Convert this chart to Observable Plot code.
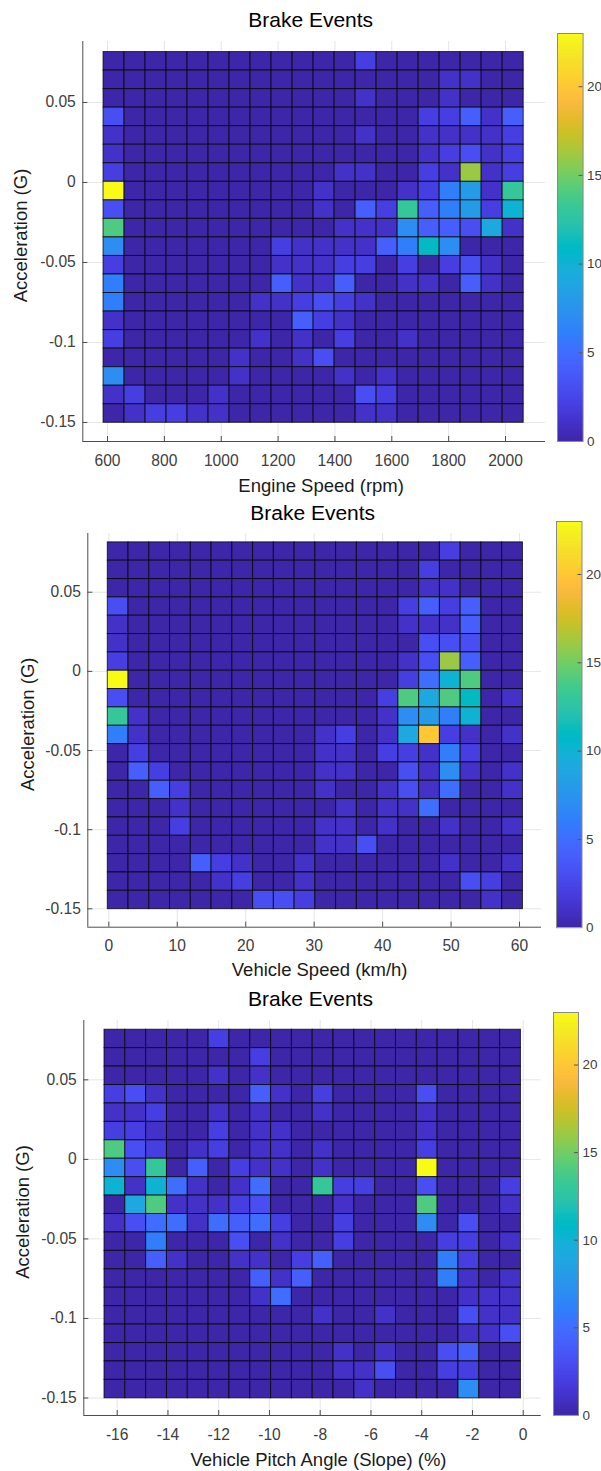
<!DOCTYPE html>
<html><head><meta charset="utf-8">
<script src="https://cdn.jsdelivr.net/npm/d3@7"></script>
<script src="https://cdn.jsdelivr.net/npm/@observablehq/plot@0.6"></script>
<style>
body{margin:0;background:#fff;}
#root{position:relative;width:601px;height:1471px;overflow:hidden;background:#fff;font-family:"Liberation Sans",Arial,sans-serif;}
#root svg{position:absolute;overflow:visible;}
</style></head><body><div id="root"></div>
<script>
// ---- data ----
const chartTitle = "Brake Events";
const yLabel = "Acceleration (G)";
const accelTicks = [-0.15, -0.1, -0.05, 0, 0.05];
const accelBinRange = [-0.1502, 0.0815];
const engineTicks = [600, 800, 1000, 1200, 1400, 1600, 1800, 2000];
const engineBinRange = [586, 2064];
const speedTicks = [0, 10, 20, 30, 40, 50, 60];
const speedBinRange = [-0.15, 60.5];
const pitchTicks = [-16, -14, -12, -10, -8, -6, -4, -2, 0];
const pitchBinRange = [-16.5, -0.09];
const colorTicks = [0, 5, 10, 15, 20];
const colorMax = 23;

// counts, rows from highest acceleration bin (top) to lowest (bottom)
const engineCounts = [
 [0,0,0,0,0,0,0,0,0,0,0,0,2,0,0,0,0,0,0,0],
 [0,0,0,0,0,0,0,0,0,0,0,0,0,0,0,0,1,1,0,0],
 [0,0,0,0,0,0,0,0,0,0,0,0,1,0,0,0,1,0,0,0],
 [3,0,0,0,0,0,0,0,0,0,0,0,0,0,0,2,2,4,1,4],
 [1,0,0,0,0,0,0,0,0,0,0,0,1,0,0,1,1,1,1,2],
 [1,0,0,0,0,0,0,0,0,0,0,0,0,0,0,1,2,3,1,2],
 [2,0,0,0,0,0,0,0,0,0,0,1,1,0,0,2,1,16,1,2],
 [23,0,0,0,0,0,0,0,0,0,1,0,0,0,1,2,6,8,1,13],
 [3,0,0,0,0,0,0,0,0,0,1,0,4,2,13,4,6,8,2,10],
 [14,0,0,0,0,0,0,0,0,0,0,1,1,1,7,4,4,3,9,1],
 [7,0,0,0,0,0,0,0,2,1,1,1,1,4,6,11,7,0,0,0],
 [2,0,0,0,0,0,0,0,1,1,1,2,2,0,2,0,2,3,1,0],
 [6,0,0,0,0,0,0,0,4,1,1,4,0,0,1,1,0,4,1,0],
 [6,0,0,0,0,0,0,1,1,2,3,2,1,0,0,0,0,0,0,0],
 [1,0,0,0,0,0,0,0,0,4,2,1,0,0,0,0,0,0,0,0],
 [2,0,0,0,0,0,0,1,0,1,0,2,0,0,1,0,0,0,0,0],
 [0,0,0,0,0,0,1,0,0,1,3,0,0,0,0,0,0,0,0,0],
 [7,0,0,0,0,0,1,0,0,0,0,1,0,1,0,0,0,0,0,0],
 [1,2,0,0,0,1,0,0,0,0,0,0,3,2,0,0,0,0,0,0],
 [0,1,2,2,1,1,0,0,0,0,0,0,1,1,0,0,0,0,0,0]
];
const speedCounts = [
 [0,0,0,0,0,0,0,0,0,0,0,0,0,0,0,0,2,0,0,0],
 [0,0,0,0,0,0,0,0,0,0,0,0,0,0,0,2,0,0,0,0],
 [0,0,0,0,0,0,0,0,0,0,0,0,0,0,0,1,1,0,0,0],
 [3,0,0,0,0,0,0,0,0,0,0,0,0,0,2,4,2,4,0,0],
 [1,0,0,0,0,0,0,0,0,0,0,0,0,0,1,1,1,4,0,0],
 [1,0,0,0,0,0,0,0,0,0,0,0,0,0,0,3,3,3,0,0],
 [2,0,0,0,0,0,0,0,0,0,0,0,0,0,1,3,16,4,0,0],
 [23,0,0,0,0,0,0,0,0,0,0,0,0,0,2,5,10,14,0,0],
 [3,0,0,0,0,0,0,0,0,0,0,0,0,2,14,9,14,11,0,1],
 [13,1,0,0,0,0,0,0,0,0,0,0,0,1,7,8,6,10,0,0],
 [6,1,0,0,0,0,0,0,0,0,1,2,0,1,9,20,2,1,0,1],
 [0,2,0,0,0,0,0,0,0,0,1,1,0,2,2,1,6,2,0,0],
 [0,4,2,0,0,0,0,0,0,0,1,1,0,0,3,1,7,1,0,1],
 [0,0,4,2,0,0,0,0,0,0,1,0,0,1,3,1,5,0,0,1],
 [0,0,0,1,0,0,0,0,0,0,0,1,0,1,1,5,0,0,0,0],
 [0,0,0,2,0,0,0,0,0,0,1,1,0,1,0,0,1,0,0,1],
 [0,0,0,0,0,0,0,0,0,0,1,1,3,0,0,0,0,0,0,0],
 [0,0,0,0,4,2,1,0,0,1,0,0,0,0,0,0,1,0,0,1],
 [0,0,0,0,0,1,2,0,0,1,0,0,0,0,0,0,0,3,2,0],
 [0,0,0,0,0,0,0,3,3,2,0,0,0,0,0,0,0,0,1,0]
];
const pitchCounts = [
 [0,0,0,0,0,2,0,0,0,0,0,0,0,0,0,0,0,0,0,0],
 [0,0,0,0,0,0,0,2,0,0,0,0,0,0,0,0,0,0,0,0],
 [0,0,0,0,0,1,0,1,0,0,0,0,0,0,0,0,0,0,0,0],
 [2,3,1,0,0,0,0,4,1,0,2,0,0,0,0,3,0,0,0,0],
 [1,1,2,0,0,1,0,1,0,0,1,0,0,0,0,1,0,0,0,0],
 [2,2,1,0,0,2,0,1,1,0,0,0,0,0,0,1,0,0,0,0],
 [14,3,2,0,1,2,0,1,1,0,1,0,0,0,0,2,0,0,0,0],
 [7,3,13,0,4,0,2,1,1,0,1,0,0,0,0,23,0,0,0,0],
 [10,1,10,5,1,0,1,5,0,0,13,2,2,0,0,3,0,0,0,2],
 [0,9,14,1,1,1,2,3,0,0,0,1,0,0,0,14,0,0,0,1],
 [1,3,5,5,1,5,4,5,2,0,0,2,0,0,0,7,0,3,0,0],
 [0,0,6,0,0,0,3,0,1,0,0,2,0,0,0,0,2,2,0,1],
 [0,0,4,1,0,0,1,1,0,2,4,0,0,0,0,0,6,2,0,0],
 [0,0,0,0,0,0,0,4,1,4,0,0,0,0,0,0,6,1,0,1],
 [0,0,0,0,0,0,0,1,5,0,0,0,0,0,0,0,0,1,1,1],
 [0,0,0,0,0,0,0,0,0,0,1,0,0,1,0,0,0,3,1,1],
 [0,0,0,0,0,0,0,0,0,0,0,0,0,0,0,0,0,1,1,3],
 [0,0,0,0,0,0,0,0,0,0,0,1,0,1,0,0,3,4,0,0],
 [0,0,0,0,0,0,0,0,0,0,0,1,1,3,0,0,2,2,0,0],
 [0,0,0,0,0,0,0,0,0,0,0,0,1,0,0,0,0,7,0,0]
];

// MATLAB parula (64)
const parulaColors = [
[0.2422,0.1504,0.6603],[0.2504,0.1650,0.7076],[0.2578,0.1818,0.7511],[0.2647,0.1978,0.7952],[0.2706,0.2147,0.8364],[0.2751,0.2342,0.8710],[0.2783,0.2559,0.8991],[0.2803,0.2782,0.9221],[0.2813,0.3006,0.9414],[0.2810,0.3228,0.9579],[0.2795,0.3447,0.9717],[0.2760,0.3667,0.9829],[0.2699,0.3892,0.9906],[0.2602,0.4123,0.9952],[0.2440,0.4358,0.9988],[0.2206,0.4603,0.9973],[0.1963,0.4847,0.9892],[0.1834,0.5074,0.9798],[0.1786,0.5289,0.9682],[0.1764,0.5499,0.9520],[0.1687,0.5703,0.9359],[0.1540,0.5902,0.9218],[0.1460,0.6091,0.9079],[0.1380,0.6276,0.8973],[0.1248,0.6459,0.8883],[0.1113,0.6635,0.8763],[0.0952,0.6798,0.8598],[0.0689,0.6948,0.8394],[0.0297,0.7082,0.8163],[0.0036,0.7203,0.7917],[0.0067,0.7312,0.7660],[0.0433,0.7411,0.7394],[0.0964,0.7500,0.7120],[0.1408,0.7584,0.6842],[0.1717,0.7670,0.6554],[0.1938,0.7758,0.6251],[0.2161,0.7843,0.5923],[0.2470,0.7918,0.5567],[0.2906,0.7973,0.5188],[0.3406,0.8008,0.4789],[0.3909,0.8029,0.4354],[0.4456,0.8024,0.3909],[0.5044,0.7993,0.3480],[0.5616,0.7942,0.3045],[0.6174,0.7876,0.2612],[0.6720,0.7793,0.2227],[0.7242,0.7698,0.1910],[0.7738,0.7598,0.1646],[0.8203,0.7498,0.1535],[0.8634,0.7406,0.1596],[0.9035,0.7330,0.1774],[0.9393,0.7288,0.2100],[0.9728,0.7298,0.2394],[0.9956,0.7434,0.2371],[0.9970,0.7659,0.2199],[0.9952,0.7893,0.2028],[0.9892,0.8136,0.1885],[0.9786,0.8386,0.1766],[0.9676,0.8639,0.1643],[0.9610,0.8890,0.1537],[0.9597,0.9135,0.1423],[0.9628,0.9373,0.1265],[0.9691,0.9606,0.1064],[0.9769,0.9839,0.0805]
].map(([r,g,b]) => d3.rgb(r*255, g*255, b*255).formatHex());

// ---- layout ----
const FONT = '"Liberation Sans", Arial, sans-serif';
const panels = [
  {counts: engineCounts, xBins: engineBinRange, xTicks: engineTicks, xLabel: "Engine Speed (rpm)",
   xDomain: [513, 2140.7], yDomain: [-0.1619, 0.0881],
   axes: {left: 82.3, right: 545, top: 40.7, bottom: 440.7},
   cb: {left: 556.7, right: 582.3, top: 32.7, bottom: 440.7},
   titleDy: -21.5, titleDx: -3.5, xLabDy: 44.3, xLabDx: 7, yLabDx: -62, yLabDy: -6},
  {counts: speedCounts, xBins: speedBinRange, xTicks: speedTicks, xLabel: "Vehicle Speed (km/h)",
   xDomain: [-3.07, 63.21], yDomain: [-0.1616, 0.0871],
   axes: {left: 87.3, right: 541, top: 533, bottom: 926.7},
   cb: {left: 555.5, right: 581, top: 520.5, bottom: 926.7},
   titleDy: -20, titleDx: -2, xLabDy: 42.6, xLabDx: 5, yLabDx: -60, yLabDy: -6},
  {counts: pitchCounts, xBins: pitchBinRange, xTicks: pitchTicks, xLabel: "Vehicle Pitch Angle (Slope) (%)",
   xDomain: [-17.316, 0.709], yDomain: [-0.1610, 0.0873],
   axes: {left: 83.3, right: 540.7, top: 1020, bottom: 1415},
   cb: {left: 553.3, right: 578.3, top: 1012, bottom: 1415},
   titleDy: -21, titleDx: -2, xLabDy: 44.3, xLabDx: 6, yLabDx: -61, yLabDy: -6}
];

const root = document.getElementById("root");
const colorScale = {type: "linear", domain: [0, colorMax], interpolate: d3.piecewise(d3.interpolateRgb, parulaColors), clamp: true};
const axisGray = "#4d4d4d";
const gridGray = "#e6e6e6";

function place(svg, left, top) {
  svg.style.left = left + "px";
  svg.style.top = top + "px";
  root.appendChild(svg);
}

for (const p of panels) {
  const {left, right, top, bottom} = p.axes;
  const mt = 50, mb = 70;
  const fw = right - left, fh = bottom - top;
  const cells = [];
  p.counts.forEach((row, r) => row.forEach((v, c) => cells.push({r, c, v})));
  const xEdge = i => p.xBins[0] + (p.xBins[1] - p.xBins[0]) * i / 20;
  const yEdge = i => accelBinRange[1] - (accelBinRange[1] - accelBinRange[0]) * i / 20;

  const chart = Plot.plot({
    width: 601, height: fh + mt + mb,
    marginLeft: left, marginRight: 601 - right, marginTop: mt, marginBottom: mb,
    style: {fontFamily: FONT, fontSize: "15.6px", color: "#404040", background: "transparent", overflow: "visible"},
    x: {domain: p.xDomain, ticks: p.xTicks, tickSize: 0, tickPadding: 13, tickFormat: d => String(d), label: null},
    y: {domain: p.yDomain, ticks: accelTicks, tickSize: 0, tickPadding: 7, tickFormat: d => String(d), label: null},
    color: colorScale,
    marks: [
      Plot.ruleX(p.xTicks, {x: d => d, stroke: gridGray}),
      Plot.ruleY(accelTicks, {y: d => d, stroke: gridGray}),
      Plot.rect(cells, {
        x1: d => xEdge(d.c), x2: d => xEdge(d.c + 1),
        y1: d => yEdge(d.r + 1), y2: d => yEdge(d.r),
        fill: "v", stroke: "#000", strokeOpacity: 0.75, strokeWidth: 1
      }),
      Plot.ruleX(p.xTicks, {x: d => d, stroke: axisGray, insetTop: fh - 5}),
      Plot.ruleY(accelTicks, {y: d => d, stroke: axisGray, insetRight: fw - 5}),
      Plot.ruleX([p.xDomain[0]], {x: d => d, stroke: axisGray}),
      Plot.ruleY([p.yDomain[0]], {y: d => d, stroke: axisGray}),
      Plot.text([chartTitle], {text: d => d, frameAnchor: "top", lineAnchor: "middle", textAnchor: "middle", dy: p.titleDy, dx: p.titleDx, fontSize: 21, fill: "#000"}),
      Plot.text([p.xLabel], {text: d => d, frameAnchor: "bottom", lineAnchor: "middle", textAnchor: "middle", dy: p.xLabDy, dx: p.xLabDx, fontSize: 18.5, fill: "#1a1a1a"}),
      Plot.text([yLabel], {text: d => d, frameAnchor: "left", lineAnchor: "middle", textAnchor: "middle", dx: p.yLabDx, dy: p.yLabDy, rotate: -90, fontSize: 18.5, fill: "#1a1a1a"})
    ]
  });
  place(chart, 0, top - mt);

  // colorbar
  const cb = p.cb;
  const cbm = 10;
  const svgLeft = cb.left - 4;
  const ramp = d3.range(0, colorMax, 0.05);
  const bar = Plot.plot({
    width: 601 - svgLeft, height: cb.bottom - cb.top + 2 * cbm,
    marginLeft: cb.left - svgLeft, marginRight: 601 - cb.right, marginTop: cbm, marginBottom: cbm,
    style: {fontFamily: FONT, fontSize: "13.5px", color: "#404040", background: "transparent", overflow: "visible"},
    y: {domain: [0, colorMax], ticks: colorTicks, axis: "right", tickSize: 0, tickPadding: 4, tickFormat: d => String(d), label: null},
    color: colorScale,
    marks: [
      Plot.rect(ramp, {y1: d => d, y2: d => Math.min(colorMax, d + 0.1), fill: d => d, shapeRendering: "crispEdges"}),
      Plot.ruleY(colorTicks.filter(d => d > 0), {y: d => d, stroke: "#555", insetLeft: cb.right - cb.left - 4}),
      Plot.frame({stroke: "#8a8a8a"})
    ]
  });
  place(bar, svgLeft, cb.top - cbm);
}
</script>
</body></html>
